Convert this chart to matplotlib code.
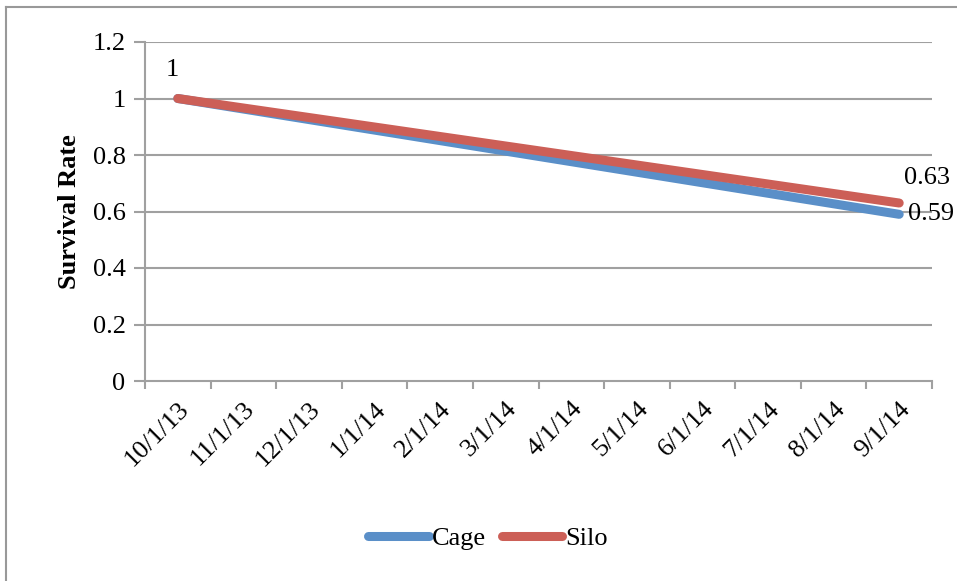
import matplotlib.pyplot as plt
from matplotlib.lines import Line2D

# monthly category axis
months = ['10/1/13', '11/1/13', '12/1/13', '1/1/14', '2/1/14', '3/1/14',
          '4/1/14', '5/1/14', '6/1/14', '7/1/14', '8/1/14', '9/1/14']

# survival measured at start and end of the season
measured = ['10/1/13', '9/1/14']
cage = [1.0, 0.59]
silo = [1.0, 0.63]

yticks = [0, 0.2, 0.4, 0.6, 0.8, 1.0, 1.2]
ytick_labels = ['0', '0.2', '0.4', '0.6', '0.8', '1', '1.2']

blue = '#5A8FC8'
red = '#CC5F57'
grid_col = '#A0A0A0'
fs = 19

plt.rcParams['font.family'] = ['Liberation Serif', 'DejaVu Serif']

fig = plt.figure(figsize=(9.57, 5.81), dpi=100)
ax = fig.add_axes([145 / 957, 1 - 381 / 581, 787 / 957, 339 / 581])

xs = [months.index(d) for d in measured]
ax.plot(xs, cage, color=blue, lw=6.5, solid_capstyle='round', zorder=3)
ax.plot(xs, silo, color=red, lw=6.5, solid_capstyle='round', zorder=4)

# data labels
ax.annotate(f'{silo[0]:g}', (xs[0], silo[0]), xytext=(-5, 28), textcoords='offset pixels',
            ha='center', va='center', fontsize=fs)
ax.annotate(f'{silo[1]:.2f}', (xs[1], silo[1]), xytext=(5, 25), textcoords='offset pixels',
            ha='left', va='center', fontsize=fs)
ax.annotate(f'{cage[1]:.2f}', (xs[1], cage[1]), xytext=(9, 0), textcoords='offset pixels',
            ha='left', va='center', fontsize=fs)

ax.set_xlim(-0.5, len(months) - 0.5)
ax.set_ylim(0, 1.2)

ax.set_yticks(yticks)
ax.set_yticklabels(ytick_labels, fontsize=fs)
ax.set_xticks(range(len(months)))
ax.set_xticklabels(months, rotation=45, ha='right', rotation_mode='anchor', fontsize=fs)
ax.set_xticks([i - 0.5 for i in range(len(months) + 1)], minor=True)

ax.tick_params(axis='x', which='major', length=0, pad=12)
ax.tick_params(axis='x', which='minor', length=6, width=1.5, color=grid_col, direction='out')
ax.tick_params(axis='y', length=8, width=1.5, color=grid_col, direction='out', pad=6)

for yv in yticks[1:]:
    ax.axhline(yv, color=grid_col, lw=1.5, zorder=1)

for s in ['top', 'right']:
    ax.spines[s].set_visible(False)
for s in ['left', 'bottom']:
    ax.spines[s].set_color(grid_col)
    ax.spines[s].set_linewidth(1.5)

ax.set_ylabel('Survival Rate', fontsize=fs, fontweight='bold', labelpad=8)

handles = [Line2D([], [], color=blue, lw=6.5, solid_capstyle='round'),
           Line2D([], [], color=red, lw=6.5, solid_capstyle='round')]
fig.legend(handles, ['Cage', 'Silo'], loc='center', bbox_to_anchor=(0.51, 1 - 538 / 581),
           ncol=2, frameon=False, fontsize=fs, handlelength=2.3, handletextpad=0.1,
           columnspacing=0.6)

# outer chart border (top and left edges)
fig.add_artist(Line2D([6 / 957, 1], [1 - 7 / 581] * 2, color='#999999', lw=1.5))
fig.add_artist(Line2D([6 / 957] * 2, [0, 1 - 7 / 581], color='#999999', lw=1.5))

fig.savefig('out.png', dpi=100)
